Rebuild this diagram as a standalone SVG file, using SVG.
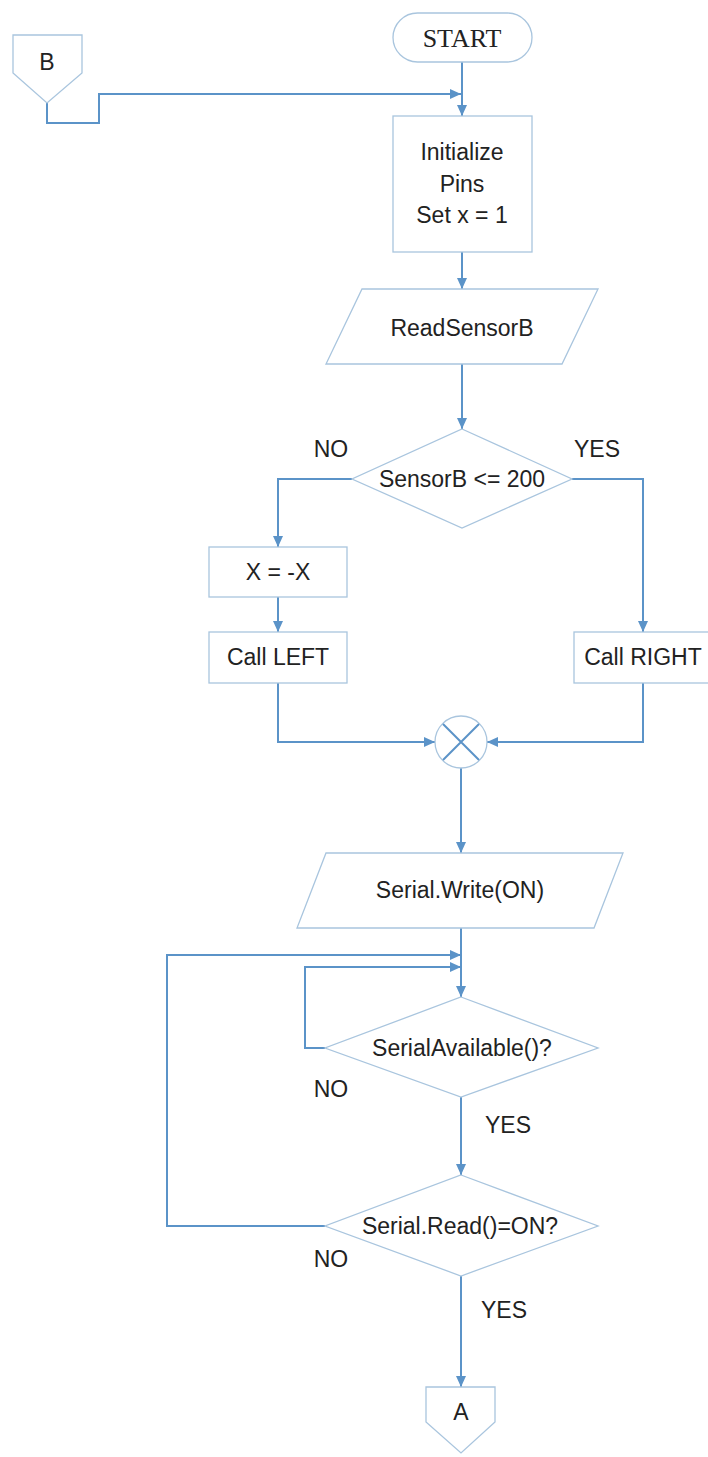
<svg xmlns="http://www.w3.org/2000/svg" width="708" height="1457" viewBox="0 0 708 1457">
  <defs>
    <marker id="arrow" markerWidth="11" markerHeight="10" refX="11" refY="5" orient="auto" markerUnits="userSpaceOnUse">
      <path d="M0,0 L11,5 L0,10 z" fill="#5b93c8"/>
    </marker>
    <style>
      .shape { fill: #ffffff; stroke: #a9c5de; stroke-width: 1.3; }
      .flow { fill: none; stroke: #5b93c8; stroke-width: 2; marker-end: url(#arrow); }
      .line { fill: none; stroke: #5b93c8; stroke-width: 2; }
      .label { font-family: "Liberation Sans", Arial, sans-serif; font-size: 23px; fill: #222222; text-anchor: middle; }
      .serif { font-family: "Liberation Serif", "Times New Roman", serif; font-size: 26px; fill: #222222; text-anchor: middle; }
    </style>
  </defs>

  <rect width="708" height="1457" fill="#ffffff"/>

  <!-- connectors -->
  <g id="connectors">
    <path class="flow" d="M462,62 V116"/>
    <path class="flow" d="M47,103 V123 H99 V94 H461"/>
    <path class="flow" d="M462,252 V289"/>
    <path class="flow" d="M462,364 V429"/>
    <path class="flow" d="M352,479 H278 V547"/>
    <path class="flow" d="M572,479 H643 V632"/>
    <path class="flow" d="M278,597 V632"/>
    <path class="flow" d="M278,683 V742 H435"/>
    <path class="flow" d="M643,683 V742 H487"/>
    <path class="flow" d="M461,768 V853"/>
    <path class="flow" d="M461,928 V997"/>
    <path class="flow" d="M325,1226 H167 V955 H461"/>
    <path class="flow" d="M325,1048 H305 V967 H461"/>
    <path class="flow" d="M461,1097 V1175"/>
    <path class="flow" d="M461,1276 V1387"/>
  </g>

  <!-- nodes -->
  <g id="start">
    <rect class="shape" x="393" y="13" width="139" height="49" rx="24.5" ry="24.5"/>
    <text class="serif" x="462" y="47">START</text>
  </g>

  <g id="connector-b">
    <path class="shape" d="M13,35 H82 V73 L47,103 L13,73 Z"/>
    <text class="label" x="47" y="70">B</text>
  </g>

  <g id="init">
    <rect class="shape" x="393" y="116" width="139" height="136"/>
    <text class="label" x="462" y="160">Initialize</text>
    <text class="label" x="462" y="192">Pins</text>
    <text class="label" x="462" y="223">Set x = 1</text>
  </g>

  <g id="read-sensor">
    <path class="shape" d="M362,289 H598 L562,364 H326 Z"/>
    <text class="label" x="462" y="336">ReadSensorB</text>
  </g>

  <g id="decision-sensor">
    <path class="shape" d="M462,429 L572,479 L462,528 L352,479 Z"/>
    <text class="label" x="462" y="487">SensorB &lt;= 200</text>
    <text class="label" x="331" y="457">NO</text>
    <text class="label" x="597" y="457">YES</text>
  </g>

  <g id="negate-x">
    <rect class="shape" x="209" y="547" width="138" height="50"/>
    <text class="label" x="278" y="580">X = -X</text>
  </g>

  <g id="call-left">
    <rect class="shape" x="209" y="632" width="138" height="51"/>
    <text class="label" x="278" y="665">Call LEFT</text>
  </g>

  <g id="call-right">
    <rect class="shape" x="574" y="632" width="138" height="51"/>
    <text class="label" x="643" y="665">Call RIGHT</text>
  </g>

  <g id="merge">
    <circle class="shape" cx="461" cy="742" r="26"/>
    <path class="line" stroke-width="1.6" d="M443,724 L479,760 M479,724 L443,760"/>
  </g>

  <g id="serial-write">
    <path class="shape" d="M326,853 H623 L594,928 H297 Z"/>
    <text class="label" x="460" y="898">Serial.Write(ON)</text>
  </g>

  <g id="decision-available">
    <path class="shape" d="M461,997 L598,1048 L461,1097 L325,1048 Z"/>
    <text class="label" x="462" y="1056">SerialAvailable()?</text>
    <text class="label" x="331" y="1097">NO</text>
    <text class="label" x="508" y="1133">YES</text>
  </g>

  <g id="decision-read">
    <path class="shape" d="M461,1175 L598,1226 L461,1276 L325,1226 Z"/>
    <text class="label" x="460" y="1234">Serial.Read()=ON?</text>
    <text class="label" x="331" y="1267">NO</text>
    <text class="label" x="504" y="1318">YES</text>
  </g>

  <g id="connector-a">
    <path class="shape" d="M426,1387 H495 V1422 L461,1453 L426,1422 Z"/>
    <text class="label" x="461" y="1420">A</text>
  </g>
</svg>
